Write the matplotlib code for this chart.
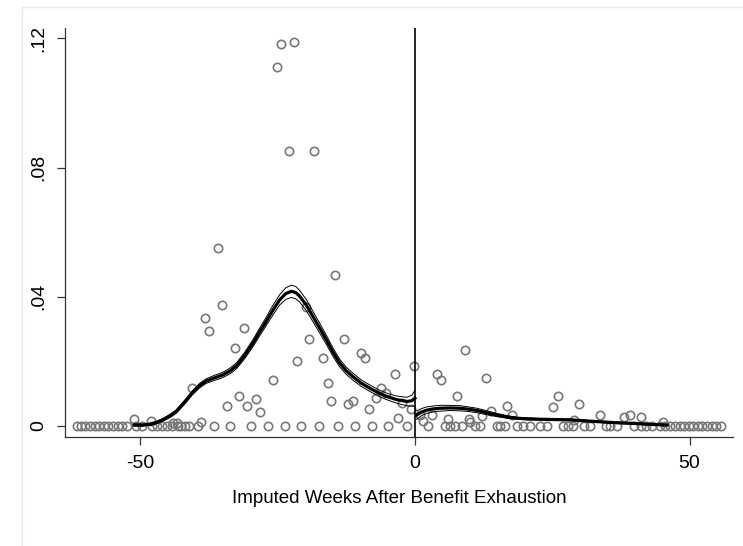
import numpy as np
import matplotlib.pyplot as plt
from matplotlib.lines import Line2D

plt.rcParams['font.family'] = ['Liberation Sans', 'DejaVu Sans']

# scatter: weeks with a positive share
pos_x = [-24.3, -22.1, -25.1, -22.9, -18.3,
         -35.8, -35.2, -38.2, -37.4, -31.1, -32.8, -21.5, -40.5, -25.9, -32.0,
         -34.3, -30.5, -29.0, -28.2, -39.0,
         -14.5, -19.2, -13.0, -16.7, -9.9, -9.1, -15.9, -3.7, -0.2, -15.3,
         -12.2, -11.3, -6.1, -5.3, -7.0, -8.3, -2.3, -0.7, -3.0, -19.9,
         -51.1, -48.0, -44.1, -43.4,
         9.2, 4.0, 4.7, 13.0, 7.7, 26.0, 25.2, 16.7, 17.6, 3.1, 6.1, 9.9,
         13.8, 12.2, 0.9, 1.4, 29.8, 33.6, 39.1, 38.1, 41.2, 45.1, 29.0, 10.0]
pos_y = [0.1183, 0.119, 0.111, 0.085, 0.085,
         0.0551, 0.0374, 0.0334, 0.0295, 0.0302, 0.0242, 0.020, 0.0118, 0.0142, 0.0094,
         0.0062, 0.0062, 0.0084, 0.0044, 0.0011,
         0.0467, 0.027, 0.027, 0.0211, 0.0227, 0.0211, 0.0133, 0.0161, 0.0186, 0.0077,
         0.0069, 0.0077, 0.0118, 0.0103, 0.0086, 0.0053, 0.007, 0.0053, 0.0026, 0.0368,
         0.0023, 0.0016, 0.001, 0.001,
         0.0234, 0.0162, 0.0142, 0.015, 0.0093, 0.0093, 0.006, 0.0061, 0.0034, 0.0034, 0.0021, 0.0021,
         0.0047, 0.0032, 0.0034, 0.0016, 0.0069, 0.0034, 0.0034, 0.0027, 0.0027, 0.0011, 0.002, 0.0012]

# weeks with zero share
zero_x = [-61.6, -60.8, -60.0, -59.1, -58.3, -57.5, -56.6, -55.8, -55.0, -54.1, -53.3, -52.5,
          -50.8, -49.6, -47.8, -46.9, -46.0, -45.1, -44.2, -43.2, -42.6, -41.8, -41.1, -39.5,
          -36.6, -33.6, -29.8, -26.8, -23.7, -20.7, -17.5, -14.0, -10.9, -7.8, -4.9, -1.5,
          2.4, 5.5, 6.4, 7.3, 8.5, 10.9, 11.9, 14.9, 15.5, 16.4, 18.6, 19.7, 21.0, 22.8,
          24.0, 27.0, 27.9, 28.8, 30.7, 31.9, 34.7, 35.6, 36.8, 39.8, 41.1, 42.0, 43.2,
          44.7, 45.6,
          46.5, 47.3, 48.2, 49.0, 49.8, 50.7, 51.5, 52.3, 53.2, 54.0, 54.8, 55.7]

# local fit before exhaustion, with half width of the band
fitL_x = [-51.1, -49.5, -48.0, -47.0, -45.9, -44.7, -43.5, -42.0, -40.5, -39.2, -38.0,
          -36.5, -35.0, -33.7, -32.5, -31.0, -29.5, -28.3, -27.1, -25.8, -24.6, -23.5,
          -22.5, -21.7, -21.0, -19.8, -18.6, -17.3, -16.1, -14.9, -13.7, -12.5, -11.3,
          -9.8, -8.2, -6.7, -5.2, -3.4, -1.5, -0.6, 0.0]
fitL_y = [0.0003, 0.0003, 0.0006, 0.0011, 0.0019, 0.0030, 0.0044, 0.0072, 0.0103, 0.0125, 0.0139,
          0.0149, 0.0158, 0.0170, 0.0186, 0.0218, 0.0256, 0.0290, 0.0323, 0.0360, 0.0391, 0.0410,
          0.0417, 0.0413, 0.0402, 0.0375, 0.0340, 0.0302, 0.0266, 0.0228, 0.0195, 0.0171, 0.0153,
          0.0133, 0.0117, 0.0103, 0.0092, 0.0082, 0.0076, 0.0078, 0.0086]
ciL_w = [0.0003, 0.0003, 0.0003, 0.0004, 0.0004, 0.0005, 0.0005, 0.0006, 0.0006, 0.0007, 0.0007,
         0.0008, 0.0008, 0.0009, 0.0009, 0.0010, 0.0011, 0.0012, 0.0013, 0.0015, 0.0016, 0.0018,
         0.0019, 0.0019, 0.0018, 0.0017, 0.0016, 0.0015, 0.0014, 0.0013, 0.0012, 0.0011, 0.0011,
         0.0010, 0.0010, 0.0010, 0.0010, 0.0011, 0.0013, 0.0017, 0.0024]

# local fit after exhaustion
fitR_x = [0.3, 1.2, 2.1, 3.3, 4.6, 6.4, 8.2, 9.8, 11.3, 13.1, 14.9, 16.8, 18.6, 20.7, 22.8,
          25.5, 28.3, 31.0, 33.8, 36.8, 39.8, 42.8, 45.9]
fitR_y = [0.0034, 0.0043, 0.0049, 0.0053, 0.0055, 0.0056, 0.0055, 0.0052, 0.0048, 0.0041, 0.0034,
          0.0028, 0.0024, 0.0022, 0.0021, 0.0020, 0.0019, 0.0016, 0.0013, 0.0010, 0.0008, 0.0005, 0.0003]
ciR_w = [0.0013, 0.0011, 0.0010, 0.0009, 0.0009, 0.0008, 0.0008, 0.0007, 0.0007, 0.0006, 0.0005,
         0.0004, 0.0003, 0.0003, 0.0002, 0.0002, 0.0002, 0.0002, 0.0002, 0.0002, 0.0002, 0.0002, 0.0002]

fig = plt.figure(figsize=(7.43, 5.46), dpi=100)
ax = fig.add_axes([65 / 743, 1 - 437 / 546, (733 - 65) / 743, (437 - 28) / 546])

# light outer frame like the stata graph region
fig.add_artist(Line2D([22 / 743, 22 / 743], [0, 1 - 7 / 546], transform=fig.transFigure,
                      color='#e4e9ef', lw=1))
fig.add_artist(Line2D([22 / 743, 1], [1 - 7 / 546, 1 - 7 / 546], transform=fig.transFigure,
                      color='#e4e9ef', lw=1))

mk = dict(marker='o', ls='none', ms=6.0, mfc='none', mec='#777777', mew=1.2)
ax.plot(zero_x, np.zeros(len(zero_x)), **mk)
ax.plot(pos_x, pos_y, **mk)

for fx, fy, w in [(fitL_x, fitL_y, ciL_w), (fitR_x, fitR_y, ciR_w)]:
    fx, fy, w = np.array(fx), np.array(fy), np.array(w)
    ax.plot(fx, fy + w, color='black', lw=0.7)
    ax.plot(fx, fy - w, color='black', lw=0.7)
    ax.plot(fx, fy, color='black', lw=2.3, solid_joinstyle='round')

ax.axvline(0, color='black', lw=1.2)

ax.set_xlim(-63.7, 57.9)
ax.set_ylim(-0.0034, 0.1232)
ax.set_xticks([-50, 0, 50])
ax.set_xticklabels(['-50', '0', '50'], fontsize=14)
ax.set_yticks([0, 0.04, 0.08, 0.12])
ax.set_yticklabels(['0', '.04', '.08', '.12'], fontsize=14, rotation=90, va='center')
ax.tick_params(axis='both', direction='out', length=6, width=0.9, color='#333333', pad=7)
ax.set_xlabel('Imputed Weeks After Benefit Exhaustion', fontsize=13.5, labelpad=13)

for s in ['top', 'right']:
    ax.spines[s].set_visible(False)
for s in ['left', 'bottom']:
    ax.spines[s].set_linewidth(0.9)
    ax.spines[s].set_color('#333333')

fig.savefig('out.png', dpi=100)
